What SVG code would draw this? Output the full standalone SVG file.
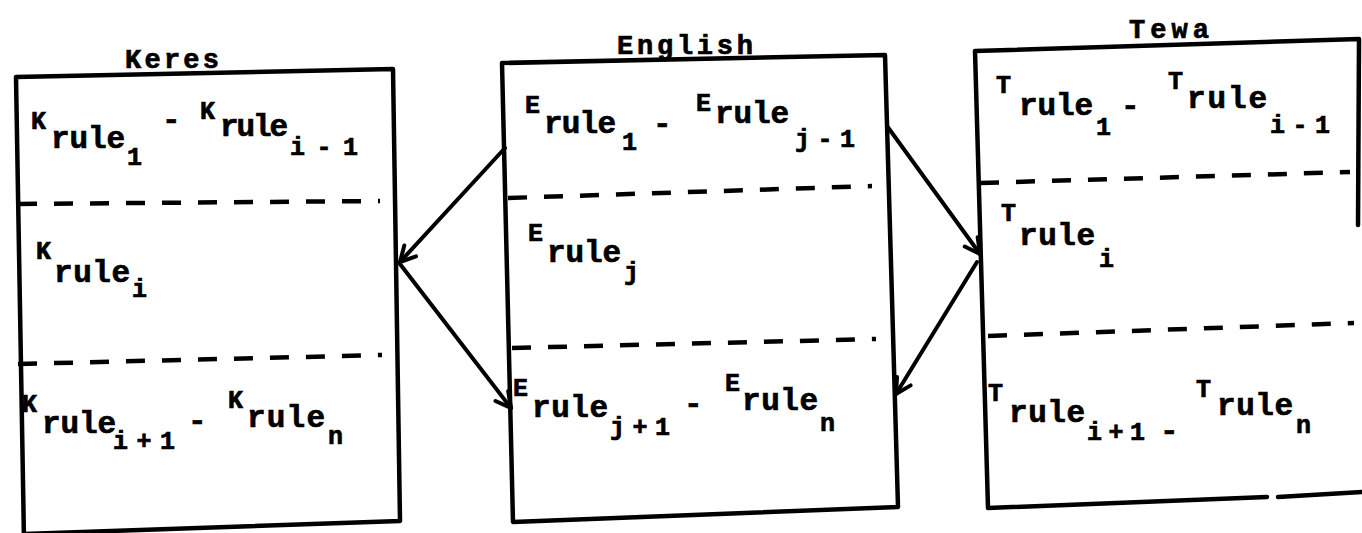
<svg xmlns="http://www.w3.org/2000/svg" width="1362" height="533" viewBox="0 0 1362 533">
<style>
.bg{fill:#fff}
.box{fill:none;stroke:#000;stroke-width:4.5;stroke-linejoin:round;stroke-linecap:round}
.dash{fill:none;stroke:#000;stroke-width:4.5;stroke-dasharray:19 17}
.arr{fill:none;stroke:#000;stroke-width:4;stroke-linecap:round;marker-end:url(#ah)}
text{font-family:"Liberation Mono","DejaVu Sans Mono",monospace;font-weight:bold;fill:#000;stroke:#000;stroke-width:0.7}
.m{font-size:31px}
.s{font-size:25px}
.h{font-size:27px}
</style>
<defs>
<marker id="ah" markerUnits="userSpaceOnUse" markerWidth="30" markerHeight="30" viewBox="-20 -15 30 30" refX="0" refY="0" orient="auto">
<path d="M-15,-8 L0,0 L-15,8" fill="none" stroke="#000" stroke-width="4" stroke-linecap="round" stroke-linejoin="round"/>
</marker>
</defs>
<rect class="bg" x="0" y="0" width="1362" height="533"/>

<g id="keres">
<path class="box" d="M16,77 L393,69 L400,521 L24,534 M16,77 L24,540"/>
<text class="h" x="125" y="68" textLength="94">Keres</text>
<path class="dash" d="M18,204 L380,201"/>
<path class="dash" d="M18,364 L382,355"/>
<text class="s" x="31" y="129">K</text>
<text class="m" x="51" y="148" textLength="74">rule</text>
<text class="s" x="127" y="165">1</text>
<text class="m" x="162" y="129">-</text>
<text class="s" x="200" y="119">K</text>
<text class="m" x="220" y="136" textLength="68">rule</text>
<text class="s" x="290" y="155" textLength="68">i-1</text>
<text class="s" x="36" y="259">K</text>
<text class="m" x="54" y="282" textLength="76">rule</text>
<text class="s" x="132" y="297">i</text>
<text class="s" x="22" y="412">K</text>
<text class="m" x="42" y="433" textLength="74">rule</text>
<text class="s" x="113" y="449" textLength="62">i+1</text>
<text class="m" x="188" y="430">-</text>
<text class="s" x="228" y="408">K</text>
<text class="m" x="247" y="427" textLength="78">rule</text>
<text class="s" x="328" y="444">n</text>
</g>

<g id="english">
<path class="box" d="M502,63 L885,55 L898,507 L513,522 Z"/>
<text class="h" x="617" y="54" textLength="136">English</text>
<path class="dash" d="M508,198 L872,186"/>
<path class="dash" d="M512,348 L876,339"/>
<text class="s" x="525" y="113">E</text>
<text class="m" x="544" y="133" textLength="72">rule</text>
<text class="s" x="622" y="150">1</text>
<text class="m" x="653" y="133">-</text>
<text class="s" x="696" y="111">E</text>
<text class="m" x="715" y="123" textLength="74">rule</text>
<text class="s" x="795" y="147" textLength="60">j-1</text>
<text class="s" x="528" y="241">E</text>
<text class="m" x="547" y="262" textLength="74">rule</text>
<text class="s" x="624" y="280">j</text>
<text class="s" x="513" y="396">E</text>
<text class="m" x="532" y="417" textLength="76">rule</text>
<text class="s" x="610" y="435" textLength="60">j+1</text>
<text class="m" x="684" y="413">-</text>
<text class="s" x="725" y="391">E</text>
<text class="m" x="742" y="410" textLength="76">rule</text>
<text class="s" x="820" y="431">n</text>
</g>

<g id="tewa">
<path class="box" d="M1358,225 L1359,39 L975,51 L988,508 L1267,497 M1278,497 L1362,492"/>
<text class="h" x="1129" y="38" textLength="80">Tewa</text>
<path class="dash" d="M980,183 L1350,172"/>
<path class="dash" d="M988,336 L1354,323"/>
<text class="s" x="996" y="93">T</text>
<text class="m" x="1019" y="115" textLength="74">rule</text>
<text class="s" x="1096" y="135">1</text>
<text class="m" x="1121" y="115">-</text>
<text class="s" x="1168" y="89">T</text>
<text class="m" x="1187" y="108" textLength="80">rule</text>
<text class="s" x="1270" y="133" textLength="60">i-1</text>
<text class="s" x="1001" y="221">T</text>
<text class="m" x="1019" y="245" textLength="76">rule</text>
<text class="s" x="1099" y="267">i</text>
<text class="s" x="988" y="401">T</text>
<text class="m" x="1009" y="422" textLength="76">rule</text>
<text class="s" x="1087" y="440" textLength="58">i+1</text>
<text class="m" x="1160" y="440">-</text>
<text class="s" x="1196" y="397">T</text>
<text class="m" x="1217" y="415" textLength="76">rule</text>
<text class="s" x="1296" y="433">n</text>
</g>

<g id="connectors">
<path class="arr" d="M505,148 L400,262"/>
<path class="arr" d="M400,264 L511,408"/>
<path class="arr" d="M887,126 L980,254"/>
<path class="arr" d="M977,262 L896,394"/>
</g>
</svg>
